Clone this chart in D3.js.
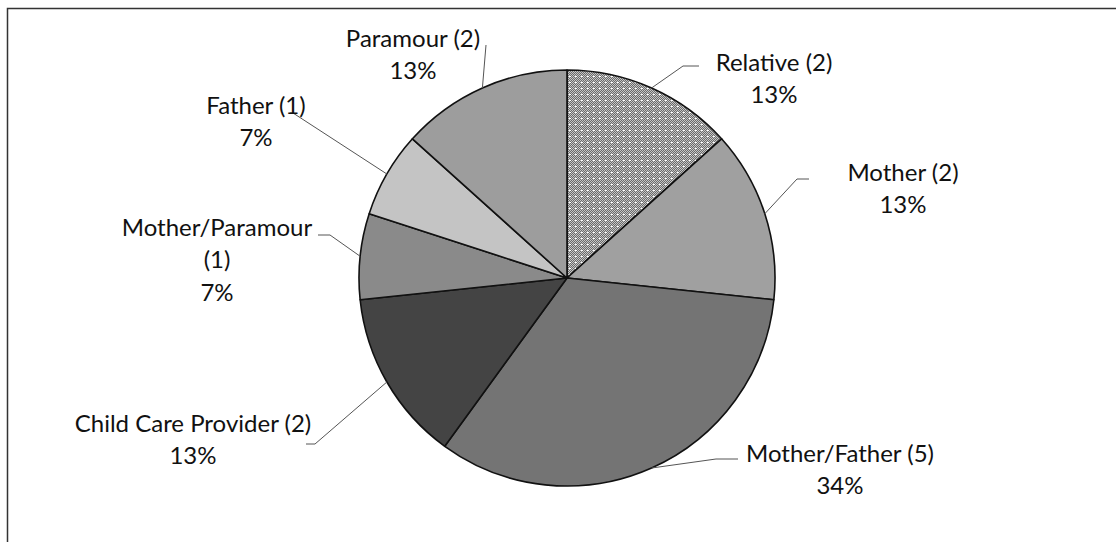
<!DOCTYPE html>
<html>
<head>
<meta charset="utf-8">
<script src="https://cdn.jsdelivr.net/npm/d3@7"></script>
<style>
  body { margin: 0; background: #fff; }
  svg { display: block; }
  text { font-family: Lato, 'Open Sans', sans-serif; fill: #111; }
</style>
</head>
<body>
<svg id="chart"></svg>
<script>
// categories go clockwise from 12 o'clock
const categories = ['Relative', 'Mother', 'Mother/Father', 'Child Care Provider', 'Mother/Paramour', 'Father', 'Paramour']
const counts = [2, 2, 5, 2, 1, 1, 2]
const percentLabels = ['13%', '13%', '34%', '13%', '7%', '7%', '13%']
const sliceColors = ['url(#dots)', '#a0a0a0', '#747474', '#444444', '#8a8a8a', '#c4c4c4', '#9d9d9d']

// where each label block sits and where its leader line bends (px)
const labelLayout = [
  { x: 774, y: 62, lines: 1, elbow: [683, 66], end: [699, 66] },
  { x: 903, y: 172, lines: 1, elbow: [797, 179], end: [809, 179] },
  { x: 840, y: 453, lines: 1, elbow: [716, 459], end: [738, 459] },
  { x: 193, y: 423, lines: 1, elbow: [315, 444], end: [306, 444] },
  { x: 217, y: 227, lines: 2, elbow: [330, 235], end: [318, 235] },
  { x: 256, y: 105, lines: 1, elbow: [293, 113], end: [290, 113] },
  { x: 413, y: 38, lines: 1, elbow: [486, 45], end: [486, 45] }
]

const width = 1116
const height = 542
const cx = 567
const cy = 278
const radius = 208
const lineGap = 32.5

const data = categories.map((name, i) => ({
  name: name,
  count: counts[i],
  pct: percentLabels[i],
  color: sliceColors[i],
  layout: labelLayout[i]
}))

function labelLines (d) {
  const head = `${d.name} (${d.count})`
  if (d.layout.lines === 2) {
    return [d.name, `(${d.count})`, d.pct]
  }
  return [head, d.pct]
}

function render () {
  const svg = d3.select('#chart')
    .attr('width', width)
    .attr('height', height)

  // stippled fill used by the Relative slice
  const pat = svg.append('defs').append('pattern')
    .attr('id', 'dots')
    .attr('patternUnits', 'userSpaceOnUse')
    .attr('width', 6)
    .attr('height', 6)
  pat.append('rect').attr('width', 6).attr('height', 6).attr('fill', '#c6c6c6')
  d3.range(36).filter(k => (k % 6 + Math.floor(k / 6)) % 2 === 0).forEach(k => {
    pat.append('rect')
      .attr('x', k % 6)
      .attr('y', Math.floor(k / 6))
      .attr('width', 1)
      .attr('height', 1)
      .attr('fill', '#6a6a6a')
  })
  pat.append('rect').attr('x', 2).attr('y', 2).attr('width', 2).attr('height', 1).attr('fill', '#fff')

  // frame of the chart area, cut off at the right and bottom
  svg.append('path')
    .attr('d', `M7.5,${height}V8.5H${width}`)
    .attr('fill', 'none')
    .attr('stroke', '#333')
    .attr('stroke-width', 1.5)

  const pie = d3.pie()
    .value(d => d.count)
    .sort(null)

  const arc = d3.arc()
    .innerRadius(0)
    .outerRadius(radius)

  const edge = d3.arc()
    .innerRadius(radius)
    .outerRadius(radius)

  const arcs = pie(data)

  const g = svg.append('g')
    .attr('transform', `translate(${cx},${cy})`)

  g.selectAll('path.slice')
    .data(arcs)
    .enter().append('path')
    .attr('class', 'slice')
    .attr('d', arc)
    .attr('fill', d => d.data.color)
    .attr('stroke', '#111')
    .attr('stroke-width', 1.6)
    .attr('stroke-linejoin', 'round')

  // leader lines
  svg.append('g')
    .selectAll('path')
    .data(arcs)
    .enter().append('path')
    .attr('d', d => {
      const c = edge.centroid(d)
      const l = d.data.layout
      return d3.line()([[cx + c[0], cy + c[1]], l.elbow, l.end])
    })
    .attr('fill', 'none')
    .attr('stroke', '#555')
    .attr('stroke-width', 1)

  const labels = svg.append('g')
    .selectAll('text')
    .data(arcs)
    .enter().append('text')
    .attr('text-anchor', 'middle')
    .attr('font-size', 24)

  labels.selectAll('tspan')
    .data(d => labelLines(d.data).map(t => ({ t: t, l: d.data.layout })))
    .enter().append('tspan')
    .attr('x', d => d.l.x)
    .attr('y', (d, i) => d.l.y + 8.5 + i * lineGap)
    .text(d => d.t)
}

render()
</script>
</body>
</html>
